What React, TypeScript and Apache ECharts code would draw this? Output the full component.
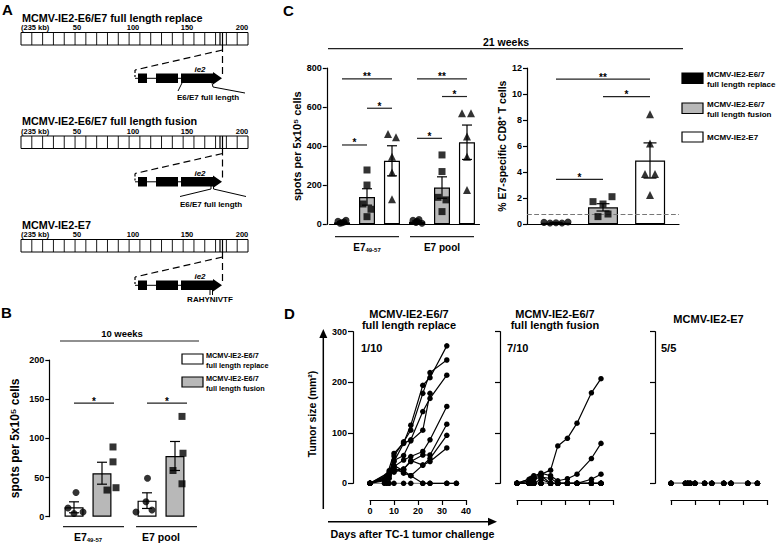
import React, { useEffect, useRef } from 'react';
import * as echarts from 'echarts';

const FONT = '"Liberation Sans", Arial, Helvetica, sans-serif';
const GRAY = '#b8b8b8';

// ---------------- Panel A ----------------
const constructTitles = ['MCMV-IE2-E6/E7 full length replace', 'MCMV-IE2-E6/E7 full length fusion', 'MCMV-IE2-E7'];
const constructInserts = ['E6/E7 full length', 'E6/E7 full length', 'RAHYNIVTF'];
const genomeTickLabels = ['(235 kb)', '50', '100', '150', '200'];
const geneName = 'ie2';

// ---------------- Panel B ----------------
const bTitle = '10 weeks';
const bCategories = ['E7_49-57', 'E7 pool'];
const bGroups = ['MCMV-IE2-E6/7\nfull length replace', 'MCMV-IE2-E6/7\nfull length fusion'];
const bReplaceMean = [12, 20.5];
const bReplaceSem = [7, 10];
const bFusionMean = [55.5, 77.5];
const bFusionSem = [14, 18.5];
const bReplacePoints = [[31, 11, 4, 6], [49, 19, 6, 8.5]];
const bFusionPoints = [[89, 70, 34, 37], [128, 81, 59, 42]];
const bSignificance = [
  { cat: 0, from: 0, to: 1, y: 145, mark: '*' },
  { cat: 1, from: 0, to: 1, y: 145, mark: '*' },
];
const bYAxisName = 'spots per 5x10\u2075 cells';

// ---------------- Panel C ----------------
const cTitle = '21 weeks';
const cCategories = ['E7_49-57', 'E7 pool'];
const cGroups = ['MCMV-IE2-E6/7\nfull length replace', 'MCMV-IE2-E6/7\nfull length fusion', 'MCMV-IE2-E7'];
const cMeans = [[10, 13], [140, 188], [325, 420]];
const cSems = [[3, 4], [42, 55], [77, 88]];
const cPoints = [
  [[15, 8, 20, 5, 12], [20, 10, 25, 5, 15]],
  [[278, 201, 104, 77, 39], [355, 270, 138, 125, 65]],
  [[462, 445, 346, 265, 128], [568, 568, 449, 346, 176]],
];
const cSignificance = [
  { cat: 0, from: 0, to: 2, y: 744, mark: '**' },
  { cat: 0, from: 1, to: 2, y: 594, mark: '*' },
  { cat: 0, from: 0, to: 1, y: 406, mark: '*' },
  { cat: 1, from: 0, to: 2, y: 744, mark: '**' },
  { cat: 1, from: 1, to: 2, y: 654, mark: '*' },
  { cat: 1, from: 0, to: 1, y: 440, mark: '*' },
];
const cRMeans = [0.12, 1.3, 4.9];
const cRSems = [0.03, 0.28, 1.35];
const cRPoints = [
  [0.15, 0.1, 0.12, 0.1, 0.18],
  [1.74, 1.56, 2.12, 0.59, 0.79],
  [8.44, 6.21, 3.86, 3.86, 2.25],
];
const cRThreshold = 0.8;
const cRSignificance = [
  { cat: 0, from: 0, to: 2, y: 11.15, mark: '**' },
  { cat: 0, from: 1, to: 2, y: 9.8, mark: '*' },
  { cat: 0, from: 0, to: 1, y: 3.45, mark: '*' },
];
const cYAxisName = 'spots per 5x10\u2075 cells';
const cRYAxisName = '% E7-specific CD8\u207A T cells';

// ---------------- Panel D ----------------
const dTitles = ['MCMV-IE2-E6/7\nfull length replace', 'MCMV-IE2-E6/7\nfull length fusion', 'MCMV-IE2-E7'];
const dFractions = ['1/10', '7/10', '5/5'];
const dYAxisName = 'Tumor size (mm\u00B2)';
const dXAxisName = 'Days after TC-1 tumor challenge';
const dReplaceDays = [0, 6, 7, 8, 10, 14, 17, 22, 25, 32, 36];
const dReplaceMice = [
  [0, null, 15, null, 59, 80, 115, 194, 209, 272, null],
  [0, null, null, 20, 54, 82, 105, 178, 219, 244, null],
  [0, null, 10, null, 43, 79, 86, 142, 168, 214, null],
  [0, null, null, 22, 33, 46, 53, 63, 86, 152, null],
  [0, null, 12, null, 26, 28, 43, 56, 56, 117, null],
  [0, 5, null, 18, 30, 20, 15, 36, 49, 95, null],
  [0, 8, null, 25, 22, 28, 45, 36, 43, 70, null],
  [0, null, null, 15, 35, 25, 15, 0, 0, 0, 0],
  [0, 0, 0, 0, 0, 0, 0, 0, 0, 0, 0],
  [0, null, null, 10, 45, 55, 84, 105, 178, null, null],
];
const dFusionDays = [0, 5, 6, 7, 10, 14, 17, 21, 25, 31, 35];
const dFusionMice = [
  [0, null, 5, 12, 18, 26, 74, 89, 119, 179, 207],
  [0, 8, null, 15, 20, 15, 5, 9, 18, 49, 79],
  [0, null, 10, 8, 12, 10, 0, 0, 0, 8, 18],
  [0, 0, null, 10, 15, 0, 0, 0, 0, 0, 0],
  [0, null, 5, 0, 8, 0, 0, 0, 0, 0, 0],
  [0, 0, 0, 0, 0, 0, 0, 0, 0, 0, 0],
  [0, 0, 0, 0, 0, 0, 0, 0, 0, 0, 0],
  [0, 0, 0, 0, 0, 0, 0, 0, 0, 0, 0],
  [0, 0, 0, 0, 0, 0, 0, 0, 0, 0, 0],
  [0, 0, 0, 0, 0, 0, 0, 0, 0, 0, 0],
];
const dE7Days = [0, 6, 7, 8, 10, 14, 17, 22, 25, 32, 36];
const dE7Mice = [
  [0, 0, 0, 0, 0, 0, 0, 0, 0, 0, 0],
  [0, 0, 0, 0, 0, 0, 0, 0, 0, 0, 0],
  [0, 0, 0, 0, 0, 0, 0, 0, 0, 0, 0],
  [0, 0, 0, 0, 0, 0, 0, 0, 0, 0, 0],
  [0, 0, 0, 0, 0, 0, 0, 0, 0, 0, 0],
];

// ---------------- layout (pixel styles) ----------------
const bOffsets = [-14, 14];
const bReplaceJitter = [[2, -6, 0, 9], [0.5, -1, -11, 5]];
const bFusionJitter = [[11, 11, 5, 14], [7, 8, -2, 7]];
const cOffsets = [-25, 0, 25];
const cJitter = [
  [[-4, 0, 4, -2, 2], [-4, -1, 2, 5, 0]],
  [[0, 0, -4, 4, 0], [0, 0, -4, 4, 0]],
  [[-4, 4, 0, 0, 0], [-5, 4, 0, 0, 0]],
];
const cROffsets = [-47, 0, 47];
const cRJitter = [[-12, -6, 0, 6, 12], [-10, 0, 9, -5, 5]];
const cRJitterE7 = [0, 0, -5, 5, 0];

const txt = (text: string, x: number, y: number, size: number, align = 'left', extra: any = {}, el: any = {}) => ({
  type: 'text', x, y, silent: true, ...el,
  style: {
    text, fontSize: size, fontWeight: 'bold', fontFamily: FONT, fill: '#000',
    align, verticalAlign: 'middle', textAlign: align, textVerticalAlign: 'middle', ...extra,
  },
});
const ln = (x1: number, y1: number, x2: number, y2: number, w = 1, extra: any = {}) => ({
  type: 'line', silent: true, shape: { x1, y1, x2, y2 }, style: { stroke: '#000', lineWidth: w, ...extra },
});

function constructGraphics(k: number) {
  const dy = k * 103.5;
  const els: any[] = [];
  els.push(txt(constructTitles[k], 22, 17.5 + dy, 10.8));
  els.push(txt(genomeTickLabels[0], 21, 27.5 + dy, 7.5));
  const tickX = [77, 133, 187, 242];
  genomeTickLabels.slice(1).forEach((t, i) => els.push(txt(t, tickX[i], 27.5 + dy, 7.5, 'center')));
  els.push({ type: 'rect', silent: true, shape: { x: 21, y: 32.5 + dy, width: 227, height: 12.5 }, style: { fill: '#fff', stroke: '#000', lineWidth: 1 } });
  for (let i = 1; i < 21; i++) {
    const x = 21 + (i * 227) / 21;
    els.push(ln(x, 32.5 + dy, x, 45 + dy, 0.9));
  }
  els.push(ln(220, 32.5 + dy, 220, 45 + dy, 1.2));
  els.push(ln(222.5, 32.5 + dy, 222.5, 45 + dy, 1.2));
  const dash = { lineDash: [7, 4] };
  els.push(ln(222.5, 45 + dy, 222.5, 78 + dy, 1.2, dash));
  els.push(ln(222.5, 50 + dy, 135, 70 + dy, 1.2, dash));
  els.push(ln(135, 70 + dy, 135, 77 + dy, 1.2, { lineDash: [3, 2] }));
  els.push(ln(135, 78.3 + dy, 218, 78.3 + dy, 1));
  els.push({ type: 'rect', silent: true, shape: { x: 138, y: 73.5 + dy, width: 9, height: 9.5 }, style: { fill: '#000' } });
  els.push({ type: 'rect', silent: true, shape: { x: 156, y: 73.5 + dy, width: 22, height: 9.5 }, style: { fill: '#000' } });
  els.push({
    type: 'polygon', silent: true,
    shape: { points: [[181, 73.5 + dy], [213, 73.5 + dy], [213, 72 + dy], [222, 78.3 + dy], [213, 84.6 + dy], [213, 83 + dy], [181, 83 + dy]] },
    style: { fill: '#000' },
  });
  els.push(txt(geneName, 200, 69.5 + dy, 8, 'center', { fontStyle: 'italic' }));
  if (k === 0) {
    els.push(ln(182, 83 + dy, 178, 91 + dy, 1));
    els.push({ type: 'polyline', silent: true, shape: { points: [[212, 83 + dy], [213, 87 + dy], [245, 93 + dy]] }, style: { stroke: '#000', lineWidth: 1, fill: null } });
    els.push(txt(constructInserts[k], 208, 97.8 + dy, 8, 'center'));
  } else if (k === 1) {
    els.push(ln(211, 80 + dy, 211, 85.5 + dy, 1));
    els.push(ln(213.5, 80 + dy, 213.5, 85.5 + dy, 1));
    els.push(ln(211, 85.5 + dy, 180, 93 + dy, 1));
    els.push(ln(213.5, 85.5 + dy, 246, 93 + dy, 1));
    els.push(txt(constructInserts[k], 211, 100.5 + dy, 8, 'center'));
  } else {
    els.push(ln(210, 82 + dy, 210, 88 + dy, 1));
    els.push(ln(212.5, 82 + dy, 212.5, 88 + dy, 1));
    els.push(txt(constructInserts[k], 210, 92 + dy, 8, 'center'));
  }
  return els;
}

function errBars(xi: number, means: number[], sems: number[], dx: number, cap: number) {
  return {
    type: 'custom', xAxisIndex: xi, yAxisIndex: xi, clip: false, silent: true, z: 4,
    encode: { x: 0, y: 1 },
    data: means.map((m, i) => [i, m, sems[i]]),
    renderItem: (params: any, api: any) => {
      const c = api.value(0), m = api.value(1), s = api.value(2);
      const t = api.coord([c, m + s]);
      const b = api.coord([c, Math.max(0, m - s)]);
      const x = t[0] + dx;
      const st = { stroke: '#000', lineWidth: 1.2 };
      return {
        type: 'group', children: [
          { type: 'line', shape: { x1: x, y1: t[1], x2: x, y2: b[1] }, style: st },
          { type: 'line', shape: { x1: x - cap, y1: t[1], x2: x + cap, y2: t[1] }, style: st },
          { type: 'line', shape: { x1: x - cap, y1: b[1], x2: x + cap, y2: b[1] }, style: st },
        ],
      };
    },
  };
}

function pts(xi: number, vals: number[][], dx: number, jitter: number[][], symbol: string, size: number) {
  return {
    type: 'scatter', xAxisIndex: xi, yAxisIndex: xi, symbol, symbolSize: size, silent: true, z: 5, clip: false,
    itemStyle: { color: '#000' },
    data: vals.flatMap((arr, c) => arr.map((v, i) => ({ value: [c, v], symbolOffset: [dx + jitter[c][i], 0] }))),
  };
}

function sig(xi: number, items: any[], offsets: number[], extra: number[], fs: number) {
  return {
    type: 'custom', xAxisIndex: xi, yAxisIndex: xi, clip: false, silent: true, z: 6,
    encode: { x: 0, y: 1 },
    data: items.map((it) => [it.cat, it.y]),
    renderItem: (params: any, api: any) => {
      const it = items[params.dataIndex];
      const p = api.coord([api.value(0), api.value(1)]);
      const x1 = p[0] + offsets[it.from] + extra[0];
      const x2 = p[0] + offsets[it.to] + extra[1];
      return {
        type: 'group', children: [
          { type: 'line', shape: { x1, y1: p[1], x2, y2: p[1] }, style: { stroke: '#222', lineWidth: 1.2 } },
          {
            type: 'text', x: (x1 + x2) / 2, y: p[1] + 3,
            style: { text: it.mark, fontSize: fs, fontWeight: 'bold', fontFamily: FONT, fill: '#000', align: 'center', verticalAlign: 'bottom', textAlign: 'center', textVerticalAlign: 'bottom' },
          },
        ],
      };
    },
  };
}

function groupLines(xi: number, n: number, l: number, r: number, dy: number) {
  const data: number[][] = [];
  for (let i = 0; i < n; i++) data.push([i, 0]);
  return {
    type: 'custom', xAxisIndex: xi, yAxisIndex: xi, clip: false, silent: true, z: 3,
    encode: { x: 0, y: 1 },
    data,
    renderItem: (params: any, api: any) => {
      const p = api.coord([api.value(0), 0]);
      return { type: 'line', shape: { x1: p[0] + l, y1: p[1] + dy, x2: p[0] + r, y2: p[1] + dy }, style: { stroke: '#222', lineWidth: 1.2 } };
    },
  };
}

const richLabel = (size: number) => ({
  interval: 0,
  hideOverlap: false,
  formatter: (v: string) => (v.includes('_') ? `{m|${v.split('_')[0]}}{s|${v.split('_')[1]}}` : `{m|${v}}`),
  rich: {
    m: { fontSize: size, fontWeight: 'bold', fontFamily: FONT, color: '#000', lineHeight: 12 },
    s: { fontSize: 6, fontWeight: 'bold', fontFamily: FONT, color: '#000', lineHeight: 6, padding: [5, 0, 0, 0], verticalAlign: 'bottom' },
  },
});

const axisLineStyle = { show: true, onZero: false, lineStyle: { color: '#000', width: 1.2 } };
const tickStyle = { show: true, length: 4, lineStyle: { color: '#000', width: 1.2 } };
const tickLabel = (show = true, margin = 5) => ({ show, color: '#000', fontSize: 9, fontWeight: 'bold', fontFamily: FONT, margin });

function buildOption() {
  const graphic: any[] = [];
  // Panel letters
  graphic.push(txt('A', 2, 9, 15));
  graphic.push(txt('B', 1, 312, 15));
  graphic.push(txt('C', 283, 10, 15));
  graphic.push(txt('D', 284, 313, 15));
  // Panel A
  [0, 1, 2].forEach((k) => graphic.push(...constructGraphics(k)));
  // Panel B title + legend
  graphic.push(txt(bTitle, 122, 333.5, 9.5, 'center'));
  graphic.push(ln(60, 341, 199, 341, 1.2, { stroke: '#222' }));
  graphic.push({ type: 'rect', silent: true, shape: { x: 182, y: 354, width: 21, height: 10 }, style: { fill: '#fff', stroke: '#000', lineWidth: 1.2 } });
  graphic.push(txt(bGroups[0], 206, 360, 7.3, 'left', { lineHeight: 10 }));
  graphic.push({ type: 'rect', silent: true, shape: { x: 182, y: 377, width: 21, height: 10 }, style: { fill: GRAY, stroke: '#000', lineWidth: 1.2 } });
  graphic.push(txt(bGroups[1], 206, 383.5, 7.3, 'left', { lineHeight: 9.5 }));
  // Panel C title + legend
  graphic.push(txt(cTitle, 506, 41.5, 10.5, 'center'));
  graphic.push(ln(328, 48.7, 683, 48.7, 1.2, { stroke: '#222' }));
  graphic.push({ type: 'rect', silent: true, shape: { x: 682, y: 73, width: 21, height: 10.5 }, style: { fill: '#000', stroke: '#000', lineWidth: 1.2 } });
  graphic.push(txt(cGroups[0], 707, 79, 8, 'left', { lineHeight: 10 }));
  graphic.push({ type: 'rect', silent: true, shape: { x: 682, y: 103, width: 21, height: 10.5 }, style: { fill: GRAY, stroke: '#000', lineWidth: 1.2 } });
  graphic.push(txt(cGroups[1], 707, 109, 8, 'left', { lineHeight: 10 }));
  graphic.push({ type: 'rect', silent: true, shape: { x: 682, y: 132, width: 21, height: 10 }, style: { fill: '#fff', stroke: '#000', lineWidth: 1.2 } });
  graphic.push(txt(cGroups[2], 707, 137, 8));
  // Panel D annotations
  const dTitleX = [409, 555, 708.5];
  dTitles.forEach((t, i) => graphic.push(txt(t, dTitleX[i], 319, 11, 'center', { lineHeight: 11 })));
  const dFracX = [361, 507, 661];
  dFractions.forEach((t, i) => graphic.push(txt(t, dFracX[i], 348, 11)));
  graphic.push(ln(323.3, 509, 323.3, 336, 1.5));
  graphic.push({ type: 'polygon', silent: true, shape: { points: [[319.3, 338], [327.3, 338], [323.3, 329]] }, style: { fill: '#000' } });
  graphic.push(ln(328, 521.7, 490, 521.7, 1.5));
  graphic.push({ type: 'polygon', silent: true, shape: { points: [[488, 517.7], [488, 525.7], [497, 521.7]] }, style: { fill: '#000' } });
  graphic.push(txt(dYAxisName, 312, 414, 10.5, 'center', {}, { rotation: Math.PI / 2 }));
  graphic.push(txt(dXAxisName, 412.5, 533.5, 10.7, 'center'));

  const grids = [
    { left: 51.5, top: 360, width: 146, height: 156.7 },
    { left: 329.5, top: 68, width: 150, height: 156.3 },
    { left: 527, top: 68, width: 152, height: 156.3 },
    { left: 370, top: 331.7, width: 96, height: 151.6 },
    { left: 517, top: 331.7, width: 96, height: 151.6 },
    { left: 671, top: 331.7, width: 96, height: 151.6 },
  ].map((g) => ({ ...g, containLabel: false, outerBoundsMode: 'none' }));

  const xAxis: any[] = [
    { type: 'category', gridIndex: 0, data: bCategories, axisLine: { show: false }, axisTick: { show: false }, axisLabel: { margin: 14, ...richLabel(10.5) } },
    { type: 'category', gridIndex: 1, data: cCategories, axisLine: axisLineStyle, axisTick: { show: false }, axisLabel: { margin: 17, ...richLabel(10) } },
    { type: 'category', gridIndex: 2, data: [''], axisLine: axisLineStyle, axisTick: { show: false }, axisLabel: { show: false } },
  ];
  [3, 4, 5].forEach((g) =>
    xAxis.push({
      type: 'value', gridIndex: g, min: 0, max: 40, interval: 10, offset: 16.7,
      axisLine: axisLineStyle, axisTick: { ...tickStyle, length: 5 }, splitLine: { show: false },
      axisLabel: tickLabel(g === 3, 6),
    })
  );

  const yAxis: any[] = [
    {
      type: 'value', gridIndex: 0, min: 0, max: 200, interval: 50, offset: 2.2,
      axisLine: axisLineStyle, axisTick: tickStyle, splitLine: { show: false }, axisLabel: tickLabel(true, 5),
      name: bYAxisName, nameLocation: 'middle', nameGap: 28, nameRotate: 90,
      nameTextStyle: { fontSize: 12, fontWeight: 'bold', fontFamily: FONT, color: '#000' },
    },
    {
      type: 'value', gridIndex: 1, min: 0, max: 800, interval: 200, offset: 2.7,
      axisLine: axisLineStyle, axisTick: tickStyle, splitLine: { show: false }, axisLabel: tickLabel(true, 5),
      name: cYAxisName, nameLocation: 'middle', nameGap: 24, nameRotate: 90,
      nameTextStyle: { fontSize: 11, fontWeight: 'bold', fontFamily: FONT, color: '#000' },
    },
    {
      type: 'value', gridIndex: 2, min: 0, max: 12, interval: 2, offset: 0,
      axisLine: axisLineStyle, axisTick: tickStyle, splitLine: { show: false }, axisLabel: tickLabel(true, 5),
      name: cRYAxisName, nameLocation: 'middle', nameGap: 20, nameRotate: 90,
      nameTextStyle: { fontSize: 10.5, fontWeight: 'bold', fontFamily: FONT, color: '#000' },
    },
  ];
  [3, 4, 5].forEach((g) =>
    yAxis.push({
      type: 'value', gridIndex: g, min: 0, max: 300, interval: 100, offset: g === 5 ? 16 : 17,
      axisLine: axisLineStyle, axisTick: { ...tickStyle, length: 5 }, splitLine: { show: false },
      axisLabel: tickLabel(g === 3, 6),
    })
  );

  const series: any[] = [];
  // ---- B ----
  series.push({ type: 'bar', name: 'B replace', xAxisIndex: 0, yAxisIndex: 0, data: bReplaceMean, barWidth: 19, barGap: '47%', silent: true, z: 2, itemStyle: { color: '#fff', borderColor: '#000', borderWidth: 1.2 } });
  series.push({ type: 'bar', name: 'B fusion', xAxisIndex: 0, yAxisIndex: 0, data: bFusionMean, barWidth: 19, barGap: '47%', silent: true, z: 2, itemStyle: { color: GRAY, borderColor: '#000', borderWidth: 1.2 } });
  series.push(errBars(0, bReplaceMean, bReplaceSem, bOffsets[0], 5));
  series.push(errBars(0, bFusionMean, bFusionSem, bOffsets[1], 5));
  series.push(pts(0, bReplacePoints, bOffsets[0], bReplaceJitter, 'circle', 7));
  series.push(pts(0, bFusionPoints, bOffsets[1], bFusionJitter, 'rect', 7));
  series.push(sig(0, bSignificance, bOffsets, [0, 12], 10));
  series.push(groupLines(0, 2, -25, 36, 10));

  // ---- C left ----
  const cColors = ['#000', GRAY, '#fff'];
  const cSymbols = ['circle', 'rect', 'triangle'];
  const cSizes = [7, 7, 8];
  cMeans.forEach((m, s) => {
    series.push({ type: 'bar', name: 'C ' + s, xAxisIndex: 1, yAxisIndex: 1, data: m, barWidth: 16, barGap: '56%', silent: true, z: 2, itemStyle: { color: cColors[s], borderColor: '#000', borderWidth: 1.2 } });
  });
  cMeans.forEach((m, s) => series.push(errBars(1, m, cSems[s], cOffsets[s], 5)));
  cPoints.forEach((p, s) => series.push(pts(1, p, cOffsets[s], cJitter[s], cSymbols[s], cSizes[s])));
  series.push(sig(1, cSignificance, cOffsets, [0, 0], 10));
  series.push(groupLines(1, 2, -32, 32, 12.4));

  // ---- C right ----
  cRMeans.forEach((m, s) => {
    series.push({
      type: 'bar', name: 'CR ' + s, xAxisIndex: 2, yAxisIndex: 2, data: [m], barWidth: 30, barGap: '57%', silent: true, z: 2,
      itemStyle: { color: cColors[s], borderColor: '#000', borderWidth: 1.2 },
      markLine: s === 0 ? {
        silent: true, symbol: 'none', label: { show: false },
        lineStyle: { type: 'dashed', color: '#777', width: 1.2 },
        data: [{ yAxis: cRThreshold }],
      } : undefined,
    });
  });
  cRMeans.forEach((m, s) => series.push(errBars(2, [m], [cRSems[s]], cROffsets[s], 6.5)));
  const cRJ = [cRJitter[0], cRJitter[1], cRJitterE7];
  cRPoints.forEach((p, s) => series.push(pts(2, [p], cROffsets[s], [cRJ[s]], cSymbols[s], cSizes[s])));
  series.push(sig(2, cRSignificance, cROffsets, [0, 0], 10));

  // ---- D ----
  const dGroups = [
    { days: dReplaceDays, mice: dReplaceMice, idx: 3 },
    { days: dFusionDays, mice: dFusionMice, idx: 4 },
    { days: dE7Days, mice: dE7Mice, idx: 5 },
  ];
  dGroups.forEach((g) => {
    g.mice.forEach((vals) => {
      const data = g.days.map((d, i) => [d, vals[i]]).filter((p) => p[1] !== null);
      const allZero = vals.every((v) => v === null || v === 0);
      series.push({
        type: 'line', xAxisIndex: g.idx, yAxisIndex: g.idx, data, clip: false, silent: true,
        symbol: 'circle', symbolSize: 5.5, showSymbol: true, z: allZero ? 2 : 3,
        lineStyle: { color: allZero ? '#8a8a8a' : '#000', width: 1.2 },
        itemStyle: { color: '#000' },
      });
    });
  });

  return { animation: false, backgroundColor: '#fff', graphic: { elements: graphic }, grid: grids, xAxis, yAxis, series };
}

export default function App() {
  const ref = useRef<HTMLDivElement>(null);
  useEffect(() => {
    const chart = echarts.init(ref.current!, null, { renderer: 'svg', width: 777, height: 543 });
    chart.setOption(buildOption() as any);
    return () => chart.dispose();
  }, []);
  return <div ref={ref} style={{ position: 'fixed', left: 0, top: 0, width: 777, height: 543, background: '#fff' }} />;
}
